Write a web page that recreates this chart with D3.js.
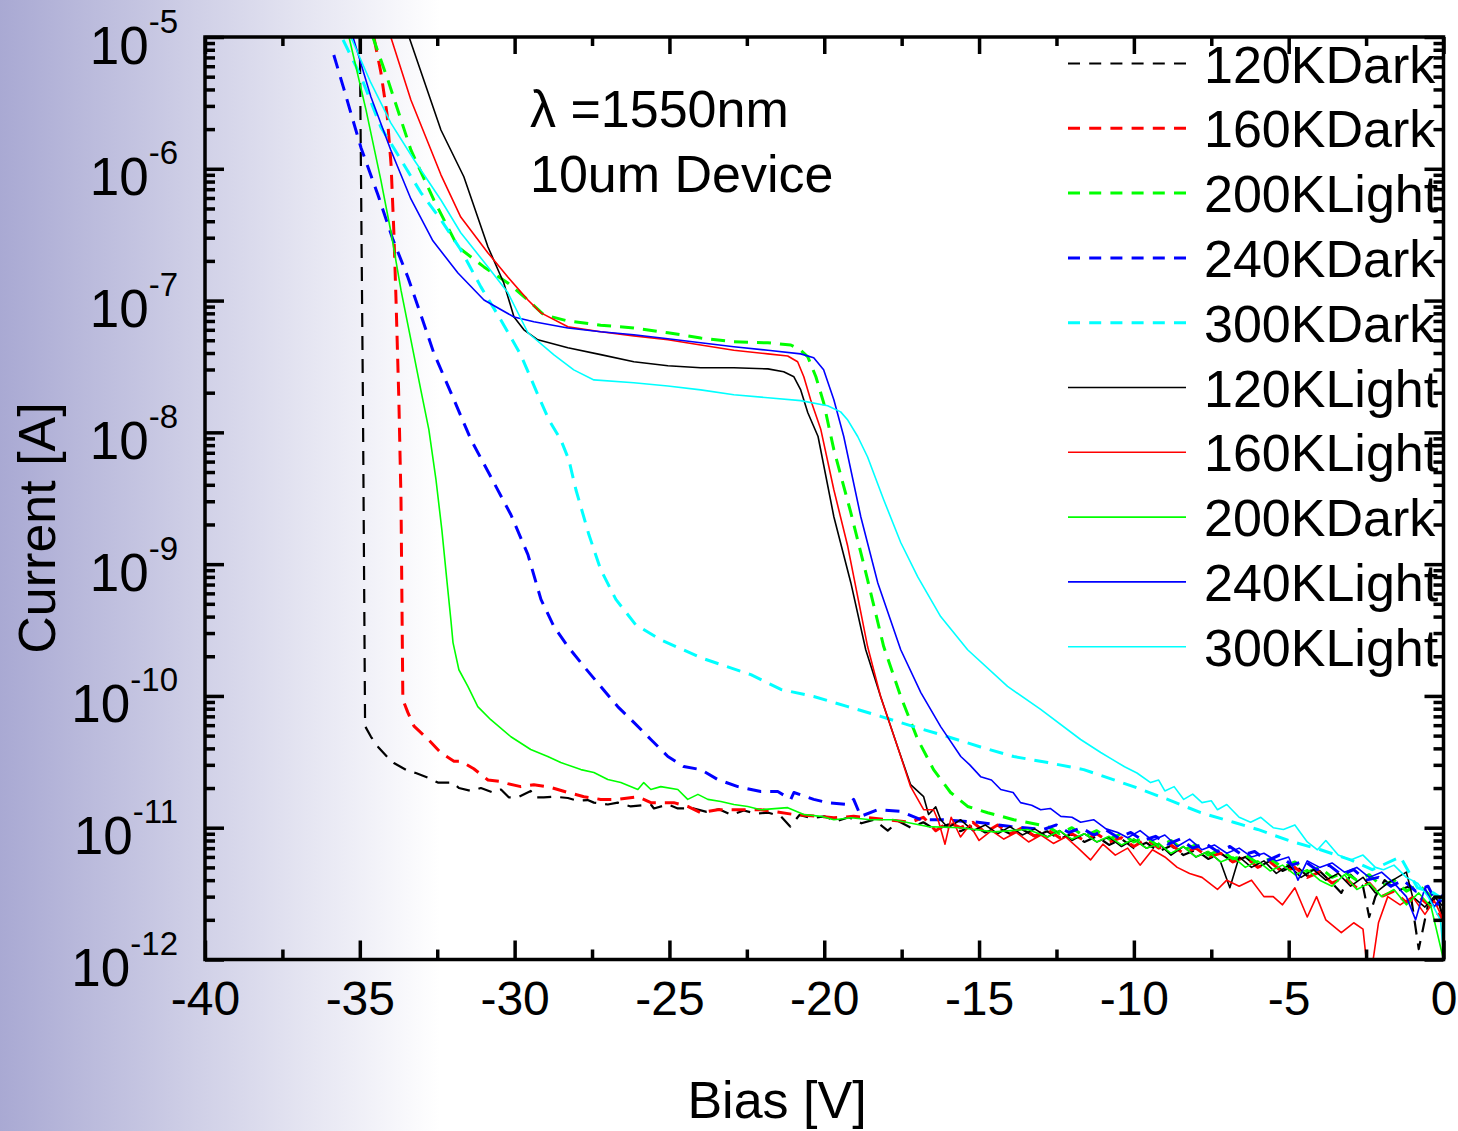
<!DOCTYPE html>
<html>
<head>
<meta charset="utf-8">
<script src="https://cdn.jsdelivr.net/npm/d3@7"></script>
<style>
  body { margin: 0; background: #fff; }
  svg { display: block; font-family: "Liberation Sans", Arial, sans-serif; }
</style>
</head>
<body>
<div id="chart"></div>
<script>
"use strict";

// Bias [V] and current [A]
const dark120 = [[-35.0,1.0e-5],[-34.9,1.8e-8],[-34.83,5.9e-11],[-34.64,4.9e-11],[-34.41,4.1e-11],[-34.09,3.4e-11],[-33.9,3.1e-11],[-33.45,2.7e-11],[-33.19,2.6e-11],[-32.8,2.4e-11],[-32.48,2.2e-11],[-31.99,2.2e-11],[-31.8,2.0e-11],[-31.41,1.9e-11],[-31.09,2.0e-11],[-30.7,1.85e-11],[-30.44,1.95e-11],[-30.19,1.7e-11],[-29.9,1.7e-11],[-29.48,1.9e-11],[-29.38,1.7e-11],[-29.06,1.7e-11],[-28.73,1.72e-11],[-28.28,1.68e-11],[-27.96,1.6e-11],[-27.64,1.62e-11],[-27.44,1.55e-11],[-26.99,1.5e-11],[-26.67,1.55e-11],[-26.25,1.45e-11],[-25.6,1.5e-11],[-25.5,1.4e-11],[-25.05,1.5e-11],[-24.73,1.4e-11],[-24.21,1.4e-11],[-23.8,1.32e-11],[-23.4,1.38e-11],[-23.0,1.25e-11],[-22.6,1.35e-11],[-22.2,1.28e-11],[-21.8,1.3e-11],[-21.4,1.22e-11],[-21.1,1.02e-11],[-20.8,1.25e-11],[-20.4,1.18e-11],[-20.0,1.22e-11],[-19.6,1.12e-11],[-19.2,1.2e-11],[-18.8,1.08e-11],[-18.4,1.15e-11],[-17.95,9.5e-12],[-17.6,1.12e-11],[-17.2,1.0e-11],[-16.8,1.1e-11],[-16.4,9.6e-12],[-16.0,1.06e-11],[-15.6,9.4e-12],[-15.2,1.04e-11],[-14.8,9.2e-12],[-14.4,1.0e-11],[-14.0,9.0e-12],[-13.6,9.7e-12],[-13.2,8.6e-12],[-12.8,9.4e-12],[-12.4,8.2e-12],[-12.0,9.0e-12],[-11.6,7.8e-12],[-11.2,8.6e-12],[-10.8,7.4e-12],[-10.4,8.2e-12],[-10.0,7.0e-12],[-9.6,7.7e-12],[-9.2,6.6e-12],[-8.8,7.3e-12],[-8.4,6.2e-12],[-8.0,6.8e-12],[-7.6,5.8e-12],[-7.2,6.4e-12],[-6.8,5.5e-12],[-6.4,6.0e-12],[-6.0,5.0e-12],[-5.6,5.6e-12],[-5.2,4.7e-12],[-4.8,5.2e-12],[-4.4,4.3e-12],[-4.0,4.7e-12],[-3.6,3.8e-12],[-3.3,3.2e-12],[-3.0,4.4e-12],[-2.6,3.6e-12],[-2.4,2.1e-12],[-2.2,3.0e-12],[-1.9,4.0e-12],[-1.5,3.3e-12],[-1.1,3.6e-12],[-0.8,1.2e-12],[-0.5,2.6e-12],[-0.2,3.0e-12],[0,2.0e-12]];

const dark160 = [[-34.54,9.8e-6],[-34.32,5.4e-6],[-34.12,2.6e-6],[-33.99,1.07e-6],[-33.9,3.3e-7],[-33.83,1.0e-7],[-33.74,1.8e-8],[-33.67,3.1e-9],[-33.64,5.4e-10],[-33.61,9.4e-11],[-33.45,7.5e-11],[-33.25,5.9e-11],[-32.8,4.7e-11],[-32.38,3.7e-11],[-31.96,3.2e-11],[-31.74,3.2e-11],[-31.32,2.8e-11],[-30.86,2.3e-11],[-30.44,2.24e-11],[-30.22,2.16e-11],[-29.8,2.05e-11],[-29.38,2.12e-11],[-28.83,2.02e-11],[-28.28,1.85e-11],[-27.76,1.72e-11],[-27.22,1.64e-11],[-26.67,1.64e-11],[-26.02,1.72e-11],[-25.6,1.55e-11],[-24.86,1.55e-11],[-24.41,1.45e-11],[-23.99,1.3e-11],[-23.44,1.37e-11],[-22.7,1.37e-11],[-22.05,1.37e-11],[-20.98,1.26e-11],[-20.21,1.22e-11],[-19.69,1.19e-11],[-19.05,1.22e-11],[-17.95,1.15e-11],[-17.21,1.1e-11],[-16.8,1.2e-11],[-16.4,9.5e-12],[-16.0,1.1e-11],[-15.6,1.0e-11],[-15.2,1.1e-11],[-14.8,9.2e-12],[-14.4,1.05e-11],[-14.0,9.0e-12],[-13.6,1.0e-11],[-13.2,8.6e-12],[-12.8,9.7e-12],[-12.4,8.4e-12],[-12.0,9.0e-12],[-11.6,8.0e-12],[-11.2,9.0e-12],[-10.8,7.8e-12],[-10.4,8.4e-12],[-10.0,7.2e-12],[-9.6,8.2e-12],[-9.2,7.0e-12],[-8.8,7.4e-12],[-8.4,6.4e-12],[-8.0,7.0e-12],[-7.6,6.0e-12],[-7.2,6.4e-12],[-6.8,5.5e-12],[-6.4,6.0e-12],[-6.0,5.0e-12],[-5.6,5.5e-12],[-5.2,4.6e-12],[-4.8,5.0e-12],[-4.4,4.2e-12],[-4.0,4.6e-12],[-3.6,3.8e-12],[-3.2,4.2e-12],[-2.8,3.5e-12],[-2.4,3.8e-12],[-2.0,3.0e-12],[-1.6,3.3e-12],[-1.2,2.7e-12],[-0.8,3.0e-12],[-0.4,2.5e-12],[0,2.0e-12]];

const light200 = [[-34.58,1.0e-5],[-34.09,4.7e-6],[-33.35,1.39e-6],[-32.61,5.8e-7],[-31.83,2.55e-7],[-30.99,1.8e-7],[-30.22,1.36e-7],[-29.57,1.01e-7],[-29.06,7.8e-8],[-28.28,7.0e-8],[-27.22,6.5e-8],[-26.15,6.2e-8],[-25.05,5.7e-8],[-23.99,5.2e-8],[-22.92,4.86e-8],[-21.82,4.78e-8],[-21.08,4.6e-8],[-20.76,4.2e-8],[-20.53,3.74e-8],[-20.27,2.64e-8],[-20.02,1.68e-8],[-19.69,7.4e-9],[-19.14,2.45e-9],[-18.6,7.6e-10],[-18.08,2.37e-10],[-17.53,9.9e-11],[-16.98,4.67e-11],[-16.47,2.76e-11],[-15.92,1.85e-11],[-15.37,1.45e-11],[-14.72,1.3e-11],[-13.88,1.15e-11],[-12.78,1.02e-11],[-12.4,9.0e-12],[-12.0,1.0e-11],[-11.6,8.6e-12],[-11.2,9.5e-12],[-10.8,8.2e-12],[-10.4,9.0e-12],[-10.0,7.8e-12],[-9.6,8.5e-12],[-9.2,7.2e-12],[-8.8,8.0e-12],[-8.4,6.8e-12],[-8.0,7.4e-12],[-7.6,6.2e-12],[-7.2,6.8e-12],[-6.8,5.8e-12],[-6.4,6.2e-12],[-6.0,5.4e-12],[-5.6,5.8e-12],[-5.2,5.0e-12],[-4.8,5.5e-12],[-4.4,4.6e-12],[-4.0,5.0e-12],[-3.6,4.2e-12],[-3.2,4.6e-12],[-2.8,4.0e-12],[-2.4,4.4e-12],[-2.0,3.6e-12],[-1.6,4.0e-12],[-1.2,3.3e-12],[-0.8,3.7e-12],[-0.4,3.0e-12],[0,2.8e-12]];

const dark240 = [[-35.84,7.3e-6],[-35.51,4.0e-6],[-34.96,1.44e-6],[-34.41,6.3e-7],[-33.93,2.9e-7],[-33.45,1.51e-7],[-33.03,7.8e-8],[-32.61,4.0e-8],[-31.96,1.77e-8],[-31.41,8.8e-9],[-30.77,4.6e-9],[-30.12,2.37e-9],[-29.57,1.18e-9],[-29.15,5.4e-10],[-28.73,3.36e-10],[-28.28,2.37e-10],[-27.76,1.67e-10],[-27.22,1.18e-10],[-26.67,8.3e-11],[-26.15,6.3e-11],[-25.6,4.67e-11],[-25.05,3.47e-11],[-24.54,2.91e-11],[-23.99,2.76e-11],[-23.44,2.32e-11],[-22.79,2.05e-11],[-22.05,1.88e-11],[-21.5,1.88e-11],[-21.08,1.64e-11],[-20.98,1.85e-11],[-20.34,1.64e-11],[-19.89,1.55e-11],[-19.24,1.5e-11],[-19.05,1.64e-11],[-18.82,1.22e-11],[-18.27,1.37e-11],[-17.53,1.33e-11],[-16.88,1.15e-11],[-16.14,1.15e-11],[-15.04,1.1e-11],[-13.98,1.02e-11],[-12.91,9.7e-12],[-12.5,1.05e-11],[-12.1,9.2e-12],[-11.7,1.0e-11],[-11.3,8.8e-12],[-10.9,9.6e-12],[-10.5,8.4e-12],[-10.1,9.2e-12],[-9.7,8.0e-12],[-9.3,8.6e-12],[-8.9,7.5e-12],[-8.5,8.2e-12],[-8.1,7.0e-12],[-7.7,7.6e-12],[-7.3,6.6e-12],[-6.9,7.2e-12],[-6.5,6.2e-12],[-6.1,6.6e-12],[-5.7,5.6e-12],[-5.3,6.2e-12],[-4.9,5.2e-12],[-4.5,5.6e-12],[-4.1,4.8e-12],[-3.7,5.2e-12],[-3.3,4.4e-12],[-2.9,4.8e-12],[-2.5,4.0e-12],[-2.1,4.2e-12],[-1.7,3.6e-12],[-1.3,4.0e-12],[-0.9,3.3e-12],[-0.5,3.6e-12],[-0.2,2.6e-12],[0,3.0e-12]];

const dark300 = [[-35.54,9.5e-6],[-34.96,5.0e-6],[-34.32,2.07e-6],[-33.67,1.17e-6],[-33.03,6.6e-7],[-32.38,4.1e-7],[-31.74,2.43e-7],[-31.09,1.27e-7],[-30.44,7.1e-8],[-29.8,3.87e-8],[-29.25,1.93e-8],[-28.89,1.24e-8],[-28.51,8.8e-9],[-28.25,6.2e-9],[-28.02,3.67e-9],[-27.6,1.67e-9],[-27.22,9.1e-10],[-26.73,5.4e-10],[-26.09,3.47e-10],[-25.28,2.67e-10],[-23.99,1.95e-10],[-22.37,1.45e-10],[-21.4,1.12e-10],[-20.34,9.9e-11],[-19.24,8.3e-11],[-18.18,7.0e-11],[-17.11,5.85e-11],[-16.01,4.9e-11],[-14.95,4.1e-11],[-13.88,3.47e-11],[-12.78,3.12e-11],[-11.62,2.76e-11],[-10.01,2.05e-11],[-8.91,1.64e-11],[-7.84,1.3e-11],[-6.78,1.1e-11],[-6.0,9.7e-12],[-4.94,7.9e-12],[-3.97,6.8e-12],[-3.0,5.7e-12],[-2.3,4.8e-12],[-1.39,6.0e-12],[-0.84,3.5e-12],[-0.32,3.2e-12],[0,2.85e-12]];

const light120 = [[-33.41,1.0e-5],[-32.38,1.97e-6],[-31.64,8.7e-7],[-30.86,2.55e-7],[-30.35,1.36e-7],[-30.02,7.5e-8],[-29.7,6.0e-8],[-29.25,5.04e-8],[-28.28,4.38e-8],[-27.22,3.89e-8],[-26.15,3.43e-8],[-25.05,3.2e-8],[-23.99,3.09e-8],[-22.92,3.09e-8],[-21.82,3.03e-8],[-21.31,2.88e-8],[-20.98,2.64e-8],[-20.76,2.1e-8],[-20.53,1.41e-8],[-20.2,9.3e-9],[-19.69,2.29e-9],[-19.14,7.2e-10],[-18.66,2.24e-10],[-18.18,9.9e-11],[-17.63,4.1e-11],[-17.21,2.12e-11],[-16.79,1.72e-11],[-16.63,1.26e-11],[-16.4,1.44e-11],[-16.24,1.15e-11],[-16.0,1.0e-11],[-15.6,1.15e-11],[-15.2,9.5e-12],[-14.8,1.05e-11],[-14.4,9.0e-12],[-14.0,1.02e-11],[-13.6,8.8e-12],[-13.2,9.8e-12],[-12.8,8.5e-12],[-12.4,9.5e-12],[-12.0,8.0e-12],[-11.6,9.0e-12],[-11.2,7.8e-12],[-10.8,8.5e-12],[-10.4,7.2e-12],[-10.0,8.2e-12],[-9.6,7.0e-12],[-9.2,7.6e-12],[-8.8,6.2e-12],[-8.4,7.2e-12],[-8.0,6.0e-12],[-7.6,6.6e-12],[-7.2,5.5e-12],[-6.9,3.5e-12],[-6.6,6.0e-12],[-6.2,5.0e-12],[-5.8,5.6e-12],[-5.4,4.5e-12],[-5.0,5.2e-12],[-4.6,4.2e-12],[-4.2,4.8e-12],[-3.8,4.0e-12],[-3.4,4.5e-12],[-3.0,3.6e-12],[-2.6,4.2e-12],[-2.2,3.2e-12],[-1.8,3.8e-12],[-1.2,4.6e-12],[-1.0,3.0e-12],[-0.6,2.5e-12],[-0.3,3.0e-12],[0,2.5e-12]];

const light160 = [[-34.0,1.0e-5],[-33.35,3.33e-6],[-32.38,9.0e-7],[-31.74,4.3e-7],[-30.86,2.3e-7],[-30.22,1.51e-7],[-29.57,1.01e-7],[-29.15,8.07e-8],[-28.28,6.32e-8],[-27.22,5.8e-8],[-26.15,5.4e-8],[-25.05,5.04e-8],[-23.99,4.6e-8],[-22.92,4.2e-8],[-21.82,3.94e-8],[-21.18,3.8e-8],[-20.86,3.43e-8],[-20.66,2.64e-8],[-20.44,1.77e-8],[-20.11,1.05e-8],[-19.69,3.67e-9],[-19.24,1.36e-9],[-18.6,2.37e-10],[-18.18,9.9e-11],[-17.63,4.1e-11],[-17.21,2.05e-11],[-16.79,1.37e-11],[-16.47,1.37e-11],[-16.3,1.1e-11],[-16.1,7.5e-12],[-15.9,1.2e-11],[-15.6,8.5e-12],[-15.3,1.05e-11],[-15.0,8.0e-12],[-14.6,9.5e-12],[-14.2,8.2e-12],[-13.8,9.2e-12],[-13.4,7.8e-12],[-13.0,8.8e-12],[-12.6,7.6e-12],[-12.2,8.5e-12],[-11.8,7.0e-12],[-11.4,5.7e-12],[-11.0,7.5e-12],[-10.6,6.2e-12],[-10.2,7.0e-12],[-9.8,5.2e-12],[-9.4,6.8e-12],[-9.0,6.0e-12],[-8.6,5.0e-12],[-8.2,4.5e-12],[-7.8,4.2e-12],[-7.3,3.4e-12],[-7.0,4.0e-12],[-6.6,3.6e-12],[-6.2,4.0e-12],[-5.8,3.0e-12],[-5.5,3.0e-12],[-5.2,2.6e-12],[-4.8,3.5e-12],[-4.4,2.1e-12],[-4.1,3.0e-12],[-3.8,2.0e-12],[-3.3,1.6e-12],[-2.9,1.9e-12],[-2.6,1.7e-12],[-2.45,8.0e-13],[-2.3,9.0e-13],[-2.1,1.9e-12],[-1.8,3.0e-12],[-1.4,2.6e-12],[-1.0,3.0e-12],[-0.6,2.2e-12],[-0.3,2.8e-12],[0,2.0e-12]];

const dark200 = [[-35.35,1.0e-5],[-34.8,2.8e-6],[-34.32,8.2e-7],[-33.99,3.27e-7],[-33.67,1.2e-7],[-33.35,5.04e-8],[-33.03,2.1e-8],[-32.77,1.05e-8],[-32.54,4.37e-9],[-32.35,1.82e-9],[-32.19,7.6e-10],[-32.06,3.8e-10],[-31.99,2.54e-10],[-31.8,1.58e-10],[-31.51,1.18e-10],[-31.19,8.3e-11],[-30.77,6.6e-11],[-30.12,4.9e-11],[-29.48,3.92e-11],[-28.93,3.47e-11],[-28.51,3.12e-11],[-27.86,2.76e-11],[-27.44,2.62e-11],[-26.99,2.32e-11],[-26.57,2.2e-11],[-26.02,1.95e-11],[-25.83,2.2e-11],[-25.6,1.95e-11],[-25.28,2.05e-11],[-24.73,1.95e-11],[-24.41,1.64e-11],[-24.08,1.79e-11],[-23.76,1.64e-11],[-23.34,1.58e-11],[-22.92,1.5e-11],[-22.47,1.45e-11],[-22.05,1.37e-11],[-21.18,1.42e-11],[-20.66,1.26e-11],[-20.11,1.22e-11],[-19.69,1.15e-11],[-19.14,1.19e-11],[-18.5,1.15e-11],[-17.76,1.15e-11],[-16.66,1.02e-11],[-15.59,1.0e-11],[-14.53,9.3e-12],[-13.43,9.7e-12],[-12.78,8.5e-12],[-12.4,9.5e-12],[-12.0,8.2e-12],[-11.6,9.0e-12],[-11.2,7.8e-12],[-10.8,8.6e-12],[-10.4,7.4e-12],[-10.0,8.2e-12],[-9.6,7.0e-12],[-9.2,7.6e-12],[-8.8,6.4e-12],[-8.4,7.2e-12],[-8.0,6.0e-12],[-7.6,6.6e-12],[-7.2,5.5e-12],[-6.8,6.0e-12],[-6.4,5.0e-12],[-6.0,5.6e-12],[-5.6,4.7e-12],[-5.2,5.2e-12],[-4.8,4.4e-12],[-4.4,4.8e-12],[-4.0,4.0e-12],[-3.6,3.6e-12],[-3.2,4.4e-12],[-2.8,3.4e-12],[-2.4,3.8e-12],[-2.0,3.0e-12],[-1.6,3.4e-12],[-1.2,2.6e-12],[-0.8,3.2e-12],[-0.4,2.5e-12],[0,1.0e-12]];

const light240 = [[-35.22,1.0e-5],[-34.64,3.5e-6],[-34.0,1.39e-6],[-33.35,5.9e-7],[-32.64,2.84e-7],[-31.83,1.62e-7],[-30.99,1.01e-7],[-30.02,7.5e-8],[-29.38,6.9e-8],[-28.28,6.2e-8],[-27.22,5.8e-8],[-26.15,5.5e-8],[-25.05,5.13e-8],[-23.99,4.78e-8],[-22.92,4.46e-8],[-21.82,4.2e-8],[-20.76,3.94e-8],[-20.34,3.68e-8],[-20.02,2.98e-8],[-19.69,1.77e-8],[-19.37,9.3e-9],[-18.82,2.29e-9],[-18.27,7.2e-10],[-17.53,2.24e-10],[-16.88,1.06e-10],[-16.24,5.85e-11],[-15.59,3.47e-11],[-15.3,3.0e-11],[-14.95,2.44e-11],[-14.6,2.3e-11],[-14.3,1.95e-11],[-13.9,1.85e-11],[-13.66,1.55e-11],[-13.3,1.48e-11],[-13.01,1.37e-11],[-12.7,1.4e-11],[-12.36,1.22e-11],[-12.0,1.2e-11],[-11.72,1.1e-11],[-11.3,1.15e-11],[-10.9,9.8e-12],[-10.52,9.2e-12],[-10.2,8.4e-12],[-9.8,9.5e-12],[-9.4,8.0e-12],[-9.0,8.8e-12],[-8.6,7.2e-12],[-8.2,8.2e-12],[-7.8,6.8e-12],[-7.4,7.4e-12],[-7.0,6.4e-12],[-6.6,7.0e-12],[-6.2,6.0e-12],[-5.8,6.4e-12],[-5.4,5.6e-12],[-5.0,6.0e-12],[-4.7,4.0e-12],[-4.4,5.6e-12],[-4.0,5.0e-12],[-3.6,5.4e-12],[-3.2,4.6e-12],[-2.8,5.0e-12],[-2.4,4.2e-12],[-2.0,4.6e-12],[-1.6,3.8e-12],[-1.2,3.0e-12],[-0.9,2.0e-12],[-0.6,3.5e-12],[-0.3,2.5e-12],[0,3.2e-12]];

const light300 = [[-35.29,1.0e-5],[-34.64,4.48e-6],[-34.0,2.23e-6],[-33.25,1.17e-6],[-32.38,5.8e-7],[-31.74,3.27e-7],[-30.86,1.8e-7],[-30.22,1.15e-7],[-29.57,5.7e-8],[-28.73,3.87e-8],[-28.09,2.98e-8],[-27.44,2.5e-8],[-26.15,2.38e-8],[-25.05,2.25e-8],[-23.99,2.1e-8],[-22.92,1.93e-8],[-21.82,1.83e-8],[-20.76,1.74e-8],[-19.89,1.59e-8],[-19.47,1.43e-8],[-19.24,1.24e-8],[-18.92,9.3e-9],[-18.6,6.5e-9],[-18.08,3.08e-9],[-17.53,1.46e-9],[-16.98,8.0e-10],[-16.24,4.0e-10],[-15.37,2.24e-10],[-14.08,1.18e-10],[-13.01,7.9e-11],[-11.72,4.67e-11],[-11.07,3.72e-11],[-10.7,3.3e-11],[-10.3,2.9e-11],[-9.9,2.6e-11],[-9.46,2.2e-11],[-9.2,2.3e-11],[-9.0,1.9e-11],[-8.7,2.05e-11],[-8.39,1.64e-11],[-8.1,1.8e-11],[-7.8,1.55e-11],[-7.5,1.6e-11],[-7.3,1.37e-11],[-7.0,1.5e-11],[-6.6,1.2e-11],[-6.23,1.1e-11],[-5.9,1.2e-11],[-5.5,1.0e-11],[-5.17,9.7e-12],[-4.8,1.05e-11],[-4.4,7.8e-12],[-4.07,6.8e-12],[-3.8,8.0e-12],[-3.4,6.2e-12],[-3.0,5.7e-12],[-2.6,6.2e-12],[-2.2,5.0e-12],[-1.94,4.8e-12],[-1.6,5.2e-12],[-1.2,4.2e-12],[-0.84,3.8e-12],[-0.5,3.0e-12],[-0.1,2.0e-12],[0,1.1e-12]];

const seriesNames = ["120KDark", "160KDark", "200KLight", "240KDark", "300KDark",
                     "120KLight", "160KLight", "200KDark", "240KLight", "300KLight"];
const seriesData = [dark120, dark160, light200, dark240, dark300,
                    light120, light160, dark200, light240, light300];

const xTicks = [-40, -35, -30, -25, -20, -15, -10, -5, 0];
const xMinorTicks = [-37.5, -32.5, -27.5, -22.5, -17.5, -12.5, -7.5, -2.5];
const yTicks = [1e-12, 1e-11, 1e-10, 1e-9, 1e-8, 1e-7, 1e-6, 1e-5];

const seriesColors = ["#000000", "#ff0000", "#00ff00", "#0000ff", "#00ffff",
                      "#000000", "#ff0000", "#00ff00", "#0000ff", "#00ffff"];
const seriesDashed = [true, true, true, true, true, false, false, false, false, false];

function main() {
  const W = 1458, H = 1131;
  const P = { left: 205, right: 1443.5, top: 37, bottom: 959.5 };
  const FONT = 52;

  const svg = d3.select("#chart").append("svg").attr("width", W).attr("height", H);

  // lavender wash on the left
  const defs = svg.append("defs");
  const grad = defs.append("linearGradient").attr("id", "bg")
    .attr("gradientUnits", "userSpaceOnUse")
    .attr("x1", 0).attr("x2", 440).attr("y1", 0).attr("y2", 0);
  grad.append("stop").attr("offset", 0).attr("stop-color", "#a9a9d3");
  grad.append("stop").attr("offset", 1).attr("stop-color", "#ffffff");
  svg.append("rect").attr("width", W).attr("height", H).attr("fill", "url(#bg)");

  defs.append("clipPath").attr("id", "plot-clip")
    .append("rect")
    .attr("x", P.left).attr("y", P.top)
    .attr("width", P.right - P.left).attr("height", P.bottom - P.top);

  const xScale = d3.scaleLinear().domain([-40, 0]).range([P.left, P.right]);
  const yScale = d3.scaleLog().domain([1e-12, 1e-5]).range([P.bottom, P.top]);

  const lineGenerator = d3.line()
    .x((d) => xScale(d[0]))
    .y((d) => yScale(d[1]));

  svg.append("g").attr("clip-path", "url(#plot-clip)")
    .selectAll("path")
    .data(seriesData)
    .enter()
    .append("path")
    .attr("d", lineGenerator)
    .attr("fill", "none")
    .attr("stroke", (d, i) => seriesColors[i])
    .attr("stroke-width", (d, i) => (seriesDashed[i] ? (i === 0 ? 2.2 : 3) : 1.6))
    .attr("stroke-dasharray", (d, i) => (seriesDashed[i] ? "14,9" : null))
    .attr("stroke-linejoin", "round");

  // legend
  const legend = svg.append("g");
  seriesNames.forEach((name, i) => {
    const ly = 63.5 + i * 64.8;
    legend.append("line")
      .attr("x1", 1068).attr("x2", 1186).attr("y1", ly).attr("y2", ly)
      .attr("stroke", seriesColors[i])
      .attr("stroke-width", seriesDashed[i] ? (i === 0 ? 2 : 3) : 1.6)
      .attr("stroke-dasharray", seriesDashed[i] ? "12,9.2" : null);
    legend.append("text")
      .attr("x", 1204).attr("y", ly + 19)
      .attr("font-size", FONT)
      .text(name);
  });

  // annotation
  svg.append("text").attr("x", 530).attr("y", 127).attr("font-size", FONT).text("λ =1550nm");
  svg.append("text").attr("x", 530).attr("y", 192).attr("font-size", FONT).text("10um Device");

  addAxes(svg, xScale, yScale, P, FONT);
}

function addAxes(svg, xScale, yScale, P, FONT) {
  const yMinorTicks = yTicks.slice(0, -1).flatMap((d) => [2, 3, 4, 5, 6, 7, 8, 9].map((m) => m * d));
  const styleTicks = (g) => {
    g.select(".domain").remove();
    g.selectAll(".tick line").attr("stroke", "#000").attr("stroke-width", 3.5);
  };

  // bottom
  svg.append("g")
    .attr("transform", `translate(0, ${P.bottom})`)
    .call(d3.axisBottom(xScale).tickValues(xTicks).tickSizeInner(-19).tickSizeOuter(0)
      .tickFormat((d) => String(d)))
    .call(styleTicks)
    .call((g) => g.selectAll(".tick text")
      .attr("y", 55).attr("dy", 0).attr("fill", "#000")
      .attr("font-size", 48).attr("font-family", "Liberation Sans, Arial, sans-serif"));
  svg.append("g")
    .attr("transform", `translate(0, ${P.bottom})`)
    .call(d3.axisBottom(xScale).tickValues(xMinorTicks).tickSizeInner(-10).tickSizeOuter(0).tickFormat(""))
    .call(styleTicks);

  // top
  svg.append("g")
    .attr("transform", `translate(0, ${P.top})`)
    .call(d3.axisTop(xScale).tickValues(xTicks).tickSizeInner(-17).tickSizeOuter(0).tickFormat(""))
    .call(styleTicks);
  svg.append("g")
    .attr("transform", `translate(0, ${P.top})`)
    .call(d3.axisTop(xScale).tickValues(xMinorTicks).tickSizeInner(-9).tickSizeOuter(0).tickFormat(""))
    .call(styleTicks);

  // left, with 10^n labels
  svg.append("g")
    .attr("transform", `translate(${P.left}, 0)`)
    .call(d3.axisLeft(yScale).tickValues(yTicks).tickSizeInner(-19).tickSizeOuter(0).tickFormat(""))
    .call(styleTicks)
    .call((g) => g.selectAll(".tick text").each(function (d) {
      const t = d3.select(this)
        .attr("x", -27).attr("y", 26).attr("dy", 0)
        .attr("fill", "#000").attr("text-anchor", "end")
        .attr("font-family", "Liberation Sans, Arial, sans-serif");
      t.append("tspan").attr("font-size", 53).text("10");
      t.append("tspan").attr("font-size", 33).attr("dy", -31).text(String(Math.round(Math.log10(d))));
    }));
  svg.append("g")
    .attr("transform", `translate(${P.left}, 0)`)
    .call(d3.axisLeft(yScale).tickValues(yMinorTicks).tickSizeInner(-10).tickSizeOuter(0).tickFormat(""))
    .call(styleTicks);

  // right
  svg.append("g")
    .attr("transform", `translate(${P.right}, 0)`)
    .call(d3.axisRight(yScale).tickValues(yTicks).tickSizeInner(-19).tickSizeOuter(0).tickFormat(""))
    .call(styleTicks);
  svg.append("g")
    .attr("transform", `translate(${P.right}, 0)`)
    .call(d3.axisRight(yScale).tickValues(yMinorTicks).tickSizeInner(-10).tickSizeOuter(0).tickFormat(""))
    .call(styleTicks);

  // frame
  svg.append("rect")
    .attr("x", P.left).attr("y", P.top)
    .attr("width", P.right - P.left).attr("height", P.bottom - P.top)
    .attr("fill", "none").attr("stroke", "#000").attr("stroke-width", 3.5);

  // axis titles
  svg.append("text")
    .attr("x", 777).attr("y", 1118)
    .attr("text-anchor", "middle").attr("font-size", FONT)
    .text("Bias [V]");
  svg.append("text")
    .attr("transform", "translate(55, 528) rotate(-90)")
    .attr("text-anchor", "middle").attr("font-size", FONT)
    .text("Current [A]");
}

main();
</script>
</body>
</html>
